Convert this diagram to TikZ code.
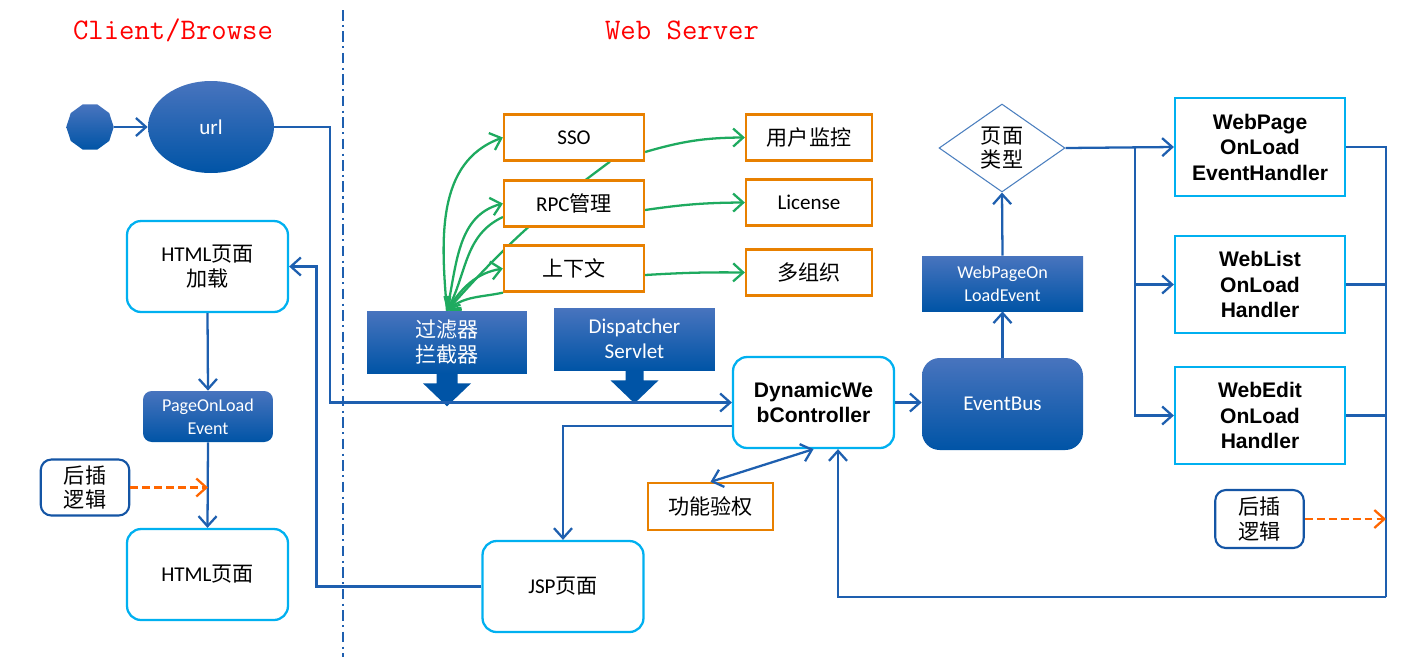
\documentclass[tikz,border=0pt]{standalone}
\usepackage{fontspec}
\setmainfont{Carlito}
\newfontfamily\cjk{Noto Sans CJK SC}
\newfontfamily\arialfont{Liberation Sans}
\usetikzlibrary{arrows.meta,shapes.geometric,backgrounds}
\newcommand{\zh}[1]{{\cjk #1}}

\definecolor{lineblue}{RGB}{30,95,175}
\definecolor{fillhi}{RGB}{72,116,190}
\definecolor{filllo}{RGB}{0,84,166}
\definecolor{boxcyan}{RGB}{0,176,240}
\definecolor{boxorange}{RGB}{232,128,0}
\definecolor{linkgreen}{RGB}{30,170,95}
\definecolor{hookorange}{RGB}{255,102,0}
\definecolor{noteblue}{RGB}{20,85,165}
\definecolor{titlered}{RGB}{255,0,0}

\tikzset{
    title/.style={
        text=titlered,
        font=\ttfamily\fontsize{17}{20}\selectfont,
    },
    divider/.style={
        lineblue,
        line width=1.2pt,
        dash pattern=on 6pt off 2.5pt on 1.2pt off 2.5pt,
    },
    bluebox/.style={
        rectangle,
        top color=fillhi,
        bottom color=filllo,
        text=white,
        align=center,
        inner sep=0pt,
        font=\fontsize{12}{14.5}\selectfont,
    },
    pagebox/.style={
        rectangle,
        rounded corners=8pt,
        draw=boxcyan,
        line width=1.3pt,
        fill=white,
        align=center,
        minimum width=3.22cm,
        minimum height=1.82cm,
        font=\fontsize{12}{14.5}\selectfont,
    },
    orangebox/.style={
        rectangle,
        draw=boxorange,
        line width=1.3pt,
        fill=white,
        minimum height=0.92cm,
        font=\fontsize{12}{14.5}\selectfont,
    },
    handlerbox/.style={
        rectangle,
        draw=boxcyan,
        line width=1.3pt,
        fill=white,
        align=center,
        minimum width=3.4cm,
        minimum height=1.95cm,
        font=\arialfont\bfseries\fontsize{12}{14.5}\selectfont,
    },
    notebox/.style={
        rectangle,
        rounded corners=6pt,
        draw=noteblue,
        line width=1.2pt,
        fill=white,
        align=center,
        minimum width=1.77cm,
        minimum height=1.12cm,
        inner sep=0pt,
        font=\cjk\fontsize{12}{14}\selectfont,
    },
    flow/.style={
        lineblue,
        line width=1.3pt,
        ->,
    },
    link/.style={
        linkgreen,
        line width=1.3pt,
        ->,
    },
    hook/.style={
        hookorange,
        line width=1.3pt,
        dash pattern=on 4.5pt off 2.3pt,
        ->,
    },
}

\begin{document}
\begin{tikzpicture}[x=0.02cm,y=-0.02cm,>={Straight Barb[length=2mm,width=3.6mm]}]
    \useasboundingbox (0,0) rectangle (1408,657);

    % titles and divider
    \node [title] (client) at (173,30) {Client/Browse};
    \node [title] (server) at (682,30) {Web Server};
    \draw [divider] (343,10) -- (343,657);

    % client side
    \node [bluebox,regular polygon,regular polygon sides=10,minimum size=0.95cm] (start) at (90,127) {};
    \node [bluebox,ellipse,minimum width=2.52cm,minimum height=1.84cm] (url) at (211,127) {url};
    \node [pagebox] (htmlload) at (207.5,266.5) {HTML\zh{页面}\\\zh{加载}};
    \node [bluebox,rounded corners=5pt,minimum width=2.6cm,minimum height=1.02cm,
        font=\fontsize{10.3}{13}\selectfont] (pageevent) at (208,416.5) {PageOnLoad\\Event};
    \node [notebox] (hookleft) at (85,487.5) {后插\\逻辑};
    \node [pagebox] (htmlpage) at (207.5,574.5) {HTML\zh{页面}};

    % server side
    \node [pagebox] (jsp) at (563,586.5) {JSP\zh{页面}};
    \node [bluebox,minimum width=3.2cm,minimum height=1.24cm] (filter) at (447,342) {\zh{过滤器}\\\zh{拦截器}};
    \node [bluebox,minimum width=3.22cm,minimum height=1.24cm] (dispatcher) at (634.5,339) {Dispatcher\\Servlet};
    \node [orangebox,minimum width=2.8cm] (sso) at (574,137.5) {SSO};
    \node [orangebox,minimum width=2.8cm] (rpc) at (574,203.5) {RPC\zh{管理}};
    \node [orangebox,minimum width=2.8cm] (ctx) at (574,268.5) {\zh{上下文}};
    \node [orangebox,minimum width=2.52cm] (monitor) at (809,137.5) {\zh{用户监控}};
    \node [orangebox,minimum width=2.52cm] (license) at (809,202.5) {License};
    \node [orangebox,minimum width=2.52cm] (multiorg) at (809,272.5) {\zh{多组织}};
    \node [pagebox,font=\arialfont\bfseries\fontsize{12}{14.5}\selectfont] (dwc) at (813.5,402.5) {DynamicWe\\bController};
    \node [orangebox,minimum width=2.5cm,minimum height=0.94cm] (auth) at (710.5,506.5) {\zh{功能验权}};
    \node [bluebox,rounded corners=10pt,minimum width=3.22cm,minimum height=1.84cm] (eventbus) at (1002.5,404) {EventBus};
    \node [bluebox,minimum width=3.22cm,minimum height=1.1cm,
        font=\fontsize{10.3}{13}\selectfont] (loadevent) at (1002.5,283.5) {WebPageOn\\LoadEvent};
    \node [diamond,draw=lineblue!80,line width=0.6pt,fill=white,align=center,inner sep=0pt,
        minimum width=2.52cm,minimum height=1.76cm,font=\cjk\fontsize{12}{14}\selectfont] (pagetype) at (1002,148) {页面\\类型};
    \node [handlerbox] (webpage) at (1260,147) {WebPage\\OnLoad\\EventHandler};
    \node [handlerbox] (weblist) at (1260,284.5) {WebList\\OnLoad\\Handler};
    \node [handlerbox] (webedit) at (1260,415.5) {WebEdit\\OnLoad\\Handler};
    \node [notebox,minimum height=1.16cm] (hookright) at (1259.5,519) {后插\\逻辑};

    % block arrows under filter and dispatcher
    \fill [filllo,shift={(filter.south)}] (-10.5,0) -- (-10.5,10) -- (-24,10) -- (0,33)
        -- (24,10) -- (10.5,10) -- (10.5,0) -- cycle;
    \fill [filllo,shift={(dispatcher.south)}] (-9,0) -- (-9,10) -- (-24,10) -- (0,33)
        -- (24,10) -- (9,10) -- (9,0) -- cycle;

    % green links, behind the boxes
    \begin{pgfonlayer}{background}
        \draw [link] (filter.north) to [out=95,in=200] (sso.west);
        \draw [link] (filter.north) to [out=78,in=195] (rpc.west);
        \draw [link] (filter.north) to [out=58,in=190] (ctx.west);
        \draw [link] ([xshift=0.72cm]sso.south) to [bend right=6] (filter.north);
        \draw [link] ([yshift=-0.27cm]rpc.west) to [out=205,in=62] (filter.north);
        \draw [link] (ctx.south west) to [out=192,in=40] (filter.north);
        \draw [link] ([yshift=-0.29cm]sso.east) to [bend left=8] (monitor.west);
        \draw [link] ([yshift=-0.13cm]rpc.east) to [bend left=4] (license.west);
        \draw [link] ([yshift=-0.13cm]ctx.east) to [bend left=2] (multiorg.west);
    \end{pgfonlayer}

    % blue flow
    \coordinate (fork) at (1135,148);
    \coordinate (rail) at (1386,597);
    \draw [flow] (start) -- (url);
    \draw [flow] (url.east) -- ++(56,0) |- (dwc.west);
    \draw [flow] (jsp.west) -- ++(-165,0) |- (htmlload.east);
    \draw [flow] (htmlload.south) -- (pageevent.north);
    \draw [flow] (pageevent.south) -- (htmlpage.north);
    \draw [hook] (hookleft.east) -- (hookleft.east -| pageevent.south);
    \draw [flow] ([yshift=-0.47cm]dwc.west) -| (jsp.north);
    \draw [flow] (dwc.east) -- (dwc.east -| eventbus.west);
    \draw [flow,<->] (auth.north) -- (dwc.south);
    \draw [flow] (eventbus.north) -- (loadevent.south);
    \draw [flow] (loadevent.north) -- (pagetype.south);
    \draw [flow] (pagetype.east) -- (webpage.west);
    \draw [flow] (fork) |- (webedit.west);
    \draw [flow] (fork |- weblist.west) -- (weblist.west);
    \draw [flow,-] (webpage.east) -| (rail);
    \draw [flow,-] (weblist.east) -- (weblist.east -| rail);
    \draw [flow,-] (webedit.east) -- (webedit.east -| rail);
    \draw [flow] (rail) -| ([xshift=0.49cm]dwc.south);
    \draw [hook] (hookright.east) -- (hookright.east -| rail);
\end{tikzpicture}
\end{document}
